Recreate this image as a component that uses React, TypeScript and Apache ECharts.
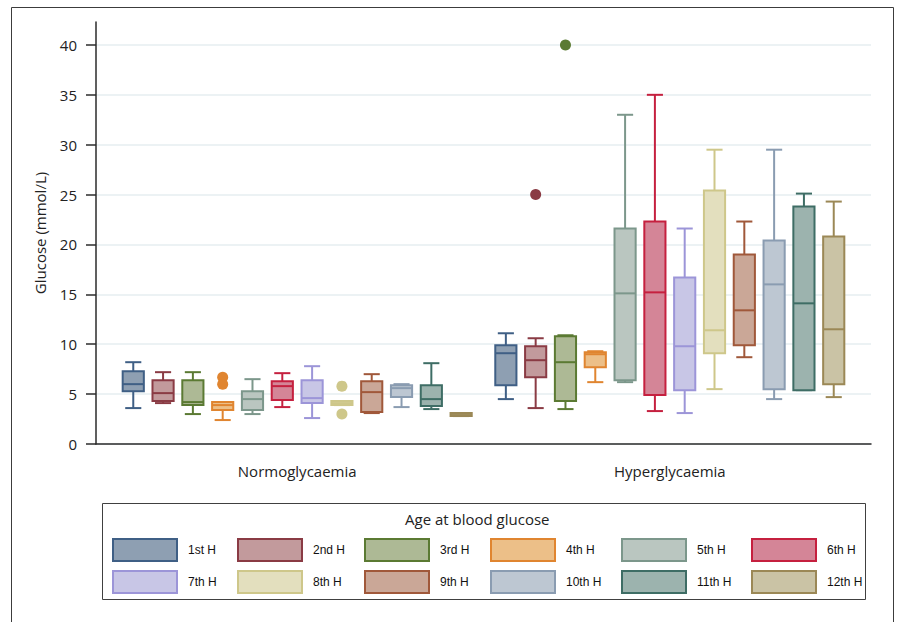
import React, { useEffect, useRef } from 'react';
import * as echarts from 'echarts';

const hours = ['1st H', '2nd H', '3rd H', '4th H', '5th H', '6th H', '7th H', '8th H', '9th H', '10th H', '11th H', '12th H'];
const groups = ['Normoglycaemia', 'Hyperglycaemia'];

// [min, Q1, median, Q3, max]
const normoglycaemia = [
  [3.6, 5.3, 6.0, 7.3, 8.2],
  [4.1, 4.3, 5.1, 6.4, 7.2],
  [3.0, 3.9, 4.2, 6.4, 7.2],
  [2.4, 3.4, 3.9, 4.2, 4.2],
  [3.0, 3.4, 4.5, 5.3, 6.5],
  [3.7, 4.4, 5.8, 6.3, 7.1],
  [2.6, 4.1, 4.6, 6.4, 7.8],
  [3.9, 3.9, 4.1, 4.3, 4.3],
  [3.1, 3.2, 5.2, 6.3, 7.0],
  [3.7, 4.7, 5.6, 5.9, 6.0],
  [3.5, 3.8, 4.5, 5.9, 8.1],
  [2.8, 2.8, 2.9, 3.1, 3.1],
];
const hyperglycaemia = [
  [4.5, 5.9, 9.1, 9.9, 11.1],
  [3.6, 6.7, 8.4, 9.8, 10.6],
  [3.5, 4.3, 8.2, 10.8, 10.9],
  [6.2, 7.7, 9.0, 9.2, 9.3],
  [6.2, 6.4, 15.1, 21.6, 33.0],
  [3.3, 4.9, 15.2, 22.3, 35.0],
  [3.1, 5.4, 9.8, 16.7, 21.6],
  [5.5, 9.1, 11.4, 25.4, 29.5],
  [8.7, 9.9, 13.4, 19.0, 22.3],
  [4.5, 5.5, 16.0, 20.4, 29.5],
  [5.4, 5.4, 14.1, 23.8, 25.1],
  [4.7, 6.0, 11.5, 20.8, 24.3],
];
const normoOutliers = [[], [], [], [6.7, 6.0], [], [], [], [5.8, 3.0], [], [], [], []];
const hyperOutliers = [[], [25.0], [40.0], [], [], [], [], [], [], [], [], []];
const yTicks = [0, 5, 10, 15, 20, 25, 30, 35, 40];

const fills = ['#8e9fb2', '#c29a9c', '#adb995', '#ecbf88', '#bac6c0', '#d48597', '#c8c6e6', '#e3dfbe', '#caa797', '#bdc7d2', '#9cb3ae', '#cac3a5'];
const strokes = ['#3f5f85', '#8a3b44', '#5b7a33', '#e08530', '#7c978b', '#c5203f', '#9c95d8', '#cec78a', '#a0583a', '#8a9cb1', '#3e6d65', '#9b8856'];

const SLOT_COUNT = 52;
const slotOf = (g: number, h: number) => (g === 0 ? 2 : 27) + 2 * h;
const labelSlots: Record<string, string> = { '13': groups[0], '38': groups[1] };
const legendColumnsX = [112, 237, 364, 490, 621, 751];

const FONT = 'Open Sans';

export default function App() {
  const ref = useRef<HTMLDivElement>(null);
  useEffect(() => {
    const chart = echarts.init(ref.current as HTMLDivElement, null, { renderer: 'svg' });

    const boxSeries = hours.map((name, h) => ({
      type: 'custom',
      name,
      z: 2,
      itemStyle: { color: fills[h], borderColor: strokes[h], borderWidth: 2 },
      encode: { x: 0, y: [1, 2, 3, 4, 5] },
      data: [normoglycaemia[h], hyperglycaemia[h]].map((s, g) => [slotOf(g, h), ...s]),
      renderItem: (params: any, api: any) => {
        const x = api.value(0);
        const pMin = api.coord([x, api.value(1)]);
        const yQ1 = api.coord([x, api.value(2)])[1];
        const yMed = api.coord([x, api.value(3)])[1];
        const yQ3 = api.coord([x, api.value(4)])[1];
        const yMax = api.coord([x, api.value(5)])[1];
        const cx = pMin[0];
        const yMin = pMin[1];
        const slot = api.size([1, 0])[0];
        const half = slot * 0.71;
        const cap = slot * 0.54;
        const stroke = strokes[h];
        const line = (x1: number, y1: number, x2: number, y2: number) => ({
          type: 'line',
          shape: { x1, y1, x2, y2 },
          style: { stroke, lineWidth: 2 },
        });
        return {
          type: 'group',
          children: [
            line(cx, yMax, cx, yQ3),
            line(cx - cap, yMax, cx + cap, yMax),
            line(cx, yQ1, cx, yMin),
            line(cx - cap, yMin, cx + cap, yMin),
            {
              type: 'rect',
              shape: { x: cx - half, y: yQ3, width: 2 * half, height: yQ1 - yQ3 },
              style: { fill: fills[h], stroke, lineWidth: 2 },
            },
            line(cx - half, yMed, cx + half, yMed),
          ],
        };
      },
    }));

    const outlierSeries = hours.map((name, h) => ({
      type: 'scatter',
      name,
      z: 3,
      symbolSize: 11,
      itemStyle: { color: strokes[h], opacity: 1 },
      data: [
        ...normoOutliers[h].map((v) => [slotOf(0, h), v]),
        ...hyperOutliers[h].map((v) => [slotOf(1, h), v]),
      ],
    }));

    const legends = legendColumnsX.map((x, c) => ({
      orient: 'vertical',
      left: x,
      top: 538,
      padding: 0,
      itemWidth: 64,
      itemHeight: 22,
      itemGap: 8,
      icon: 'rect',
      selectedMode: false,
      textStyle: {
        fontSize: 12,
        fontFamily: 'Liberation Sans',
        color: '#111',
        padding: [0, 0, 0, 6],
      },
      data: [c, c + 6].map((h) => ({
        name: hours[h],
        itemStyle: { color: fills[h], borderColor: strokes[h], borderWidth: 2 },
      })),
    }));

    chart.setOption({
      animation: false,
      backgroundColor: '#ffffff',
      grid: { left: 96, right: 30, top: 22, bottom: 178 },
      title: {
        text: 'Age at blood glucose',
        left: 405,
        top: 511,
        padding: 0,
        textStyle: { fontSize: 15, fontWeight: 'normal', fontFamily: FONT, color: '#222' },
      },
      legend: legends,
      xAxis: {
        type: 'category',
        data: Array.from({ length: SLOT_COUNT }, (_, i) => String(i)),
        boundaryGap: true,
        axisTick: { show: false },
        axisLine: { show: true, lineStyle: { color: '#2b2b2b', width: 1.5 } },
        axisLabel: {
          interval: 0,
          margin: 19,
          fontSize: 15,
          fontFamily: FONT,
          color: '#222',
          formatter: (v: string) => labelSlots[v] ?? '',
        },
        splitLine: { show: false },
      },
      yAxis: {
        type: 'value',
        min: 0,
        max: 42.3,
        interval: 5,
        name: 'Glucose (mmol/L)',
        nameLocation: 'middle',
        nameGap: 49,
        nameTextStyle: { fontSize: 15, fontFamily: FONT, color: '#222' },
        axisLine: { show: true, lineStyle: { color: '#2b2b2b', width: 1.5 } },
        axisTick: { show: true, length: 10, lineStyle: { color: '#2b2b2b', width: 1.5 }, customValues: yTicks },
        axisLabel: { margin: 19, fontSize: 15, fontFamily: FONT, color: '#222', customValues: yTicks },
        splitLine: { show: true, lineStyle: { color: '#e6eef1', width: 1.5 } },
      },
      graphic: [
        {
          type: 'rect',
          silent: true,
          z: -10,
          shape: { x: 11.5, y: 7.5, width: 882, height: 640 },
          style: { fill: 'none', stroke: '#3c3c3c', lineWidth: 1 },
        },
        {
          type: 'rect',
          silent: true,
          z: -10,
          shape: { x: 102.5, y: 503.5, width: 763, height: 96 },
          style: { fill: 'none', stroke: '#404040', lineWidth: 1 },
        },
      ],
      series: [...boxSeries, ...outlierSeries],
    });

    return () => chart.dispose();
  }, []);

  return (
    <div
      ref={ref}
      style={{ position: 'fixed', left: 0, top: 0, width: 901, height: 622, background: '#fff' }}
    />
  );
}
